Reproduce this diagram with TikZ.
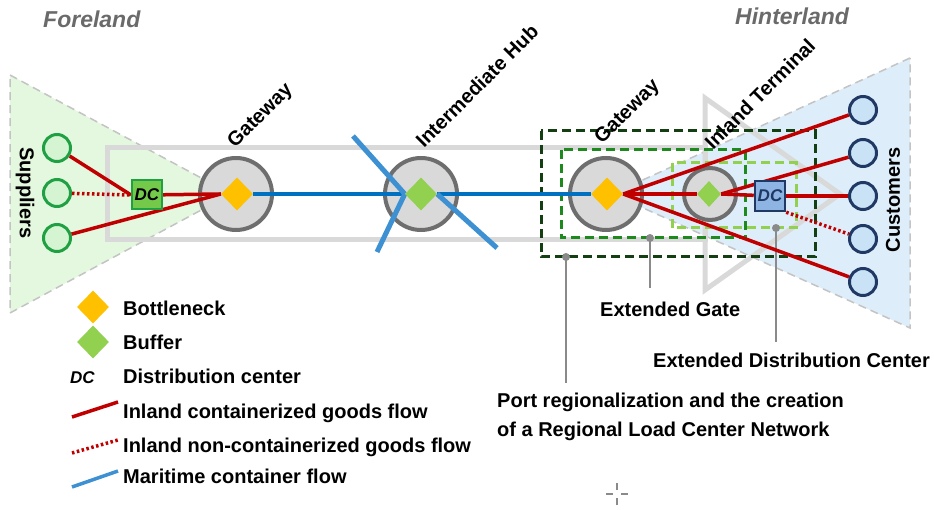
\documentclass[tikz,border=0pt]{standalone}
\usepackage{fontspec}
\setmainfont{Liberation Sans}
\usetikzlibrary{shapes.geometric}
\definecolor{trigreen}{HTML}{E4F7DF}
\definecolor{triblue}{HTML}{DDEDF9}
\definecolor{tribord}{HTML}{C4C4C4}
\definecolor{corr}{HTML}{D9D9D9}
\definecolor{gwfill}{HTML}{D9D9D9}
\definecolor{gwdraw}{HTML}{6E6E6E}
\definecolor{orng}{HTML}{FFC000}
\definecolor{bufg}{HTML}{92D050}
\definecolor{supg}{HTML}{1FA043}
\definecolor{supfill}{HTML}{D4F4D2}
\definecolor{navy}{HTML}{1F3864}
\definecolor{custfill}{HTML}{C9E2F6}
\definecolor{dcgfill}{HTML}{74C84A}
\definecolor{dcbfill}{HTML}{8DB4E2}
\definecolor{redf}{HTML}{C00000}
\definecolor{bluef}{HTML}{0070C0}
\definecolor{bluex}{HTML}{3D91D3}
\definecolor{dgreen}{HTML}{133F13}
\definecolor{mgreen}{HTML}{1E8A1E}
\definecolor{leadg}{HTML}{8A8A8A}
\definecolor{landg}{HTML}{6A6A6A}
\pgfdeclarelayer{back}
\pgfdeclarelayer{circ}
\pgfdeclarelayer{lines}
\pgfsetlayers{back,circ,lines,main}
\begin{document}
\begin{tikzpicture}[x=1pt,y=-1pt,
  lbl/.style={font=\bfseries\fontsize{20}{24}\selectfont,inner sep=0pt,anchor=base west},
  rlbl/.style={font=\bfseries\fontsize{20}{24}\selectfont,inner sep=0pt,anchor=base west,rotate=45},
  land/.style={font=\bfseries\itshape\fontsize{23}{27}\selectfont,text=landg,inner sep=0pt,anchor=base west},
  gwcircle/.style={circle,draw=gwdraw,fill=gwfill,line width=4pt,minimum size=72pt,inner sep=0pt},
  itcircle/.style={circle,draw=gwdraw,fill=gwfill,line width=4pt,minimum size=52pt,inner sep=0pt},
  bneck/.style={diamond,fill=orng,minimum width=32pt,minimum height=33pt,inner sep=0pt},
  buffer/.style={diamond,fill=bufg,minimum width=32pt,minimum height=33pt,inner sep=0pt},
  sbuffer/.style={diamond,fill=bufg,minimum width=24pt,minimum height=26pt,inner sep=0pt},
  supp/.style={circle,draw=supg,fill=supfill,line width=3pt,minimum size=27pt,inner sep=0pt},
  cust/.style={circle,draw=navy,fill=custfill,line width=3pt,minimum size=27pt,inner sep=0pt},
  dcg/.style={rectangle,draw=supg,fill=dcgfill,line width=2pt,minimum width=30pt,minimum height=29pt,inner sep=0pt,font=\bfseries\itshape\fontsize{17}{20}\selectfont},
  dcb/.style={rectangle,draw=navy,fill=dcbfill,line width=2.5pt,minimum width=30pt,minimum height=30pt,inner sep=0pt,font=\bfseries\itshape\fontsize{17}{20}\selectfont,text=navy},
  redline/.style={draw=redf,line width=3.5pt},
  reddot/.style={draw=redf,line width=3.5pt,dash pattern=on 2.5pt off 2.5pt},
  blueline/.style={draw=bluef,line width=4.5pt},
  bluecross/.style={draw=bluex,line width=5pt},
  corridor/.style={draw=corr,line width=5pt},
  dbox/.style={line width=3pt,dash pattern=on 9pt off 5pt},
  leader/.style={draw=leadg,line width=2.5pt},
  ldot/.style={circle,fill=leadg,inner sep=0pt,minimum size=8pt}
]
\useasboundingbox (0,0) rectangle (934,510);

\begin{pgfonlayer}{back}
  % foreland and hinterland triangles
  \fill[trigreen] (10,75) -- (231,194) -- (10,313) -- cycle;
  \draw[tribord,line width=1.5pt,dash pattern=on 8pt off 5pt] (10,75) -- (231,194) -- (10,313) -- cycle;
  \fill[triblue] (910,58) -- (612,194) -- (910,328) -- cycle;
  \draw[tribord,line width=1.5pt,dash pattern=on 8pt off 5pt] (910,58) -- (612,194) -- (910,328) -- cycle;
  % corridor and open triangle
  \draw[corridor] (107,148) rectangle (705,240);
  \draw[corridor] (705,98) -- (840,194) -- (705,290) -- cycle;
  % dashed boxes
  \draw[dbox,draw=dgreen] (541,131) rectangle (815,257);
  \draw[dbox,draw=mgreen] (561,150) rectangle (745,238);
  \draw[dbox,draw=bufg] (672,163) rectangle (796,228);
\end{pgfonlayer}

\begin{pgfonlayer}{circ}
  \node[gwcircle] (gw1) at (236,194) {};
  \node[gwcircle] (hub) at (421,194) {};
  \node[gwcircle] (gw2) at (606,194) {};
  \node[itcircle] (it) at (710,194) {};
  \node[supp] (s1) at (57,148) {};
  \node[supp] (s2) at (57,193) {};
  \node[supp] (s3) at (57,238) {};
  \node[cust] (c1) at (863,110) {};
  \node[cust] (c2) at (863,153) {};
  \node[cust] (c3) at (863,196) {};
  \node[cust] (c4) at (863,239) {};
  \node[cust] (c5) at (863,282) {};
\end{pgfonlayer}

% diamonds and DC boxes
\node[bneck] (d1) at (237,194) {};
\node[buffer] (d2) at (421,194) {};
\node[bneck] (d3) at (607,194) {};
\node[sbuffer] (d4) at (709,194) {};
\node[dcg] (dcl) at (147,195) {DC};
\node[dcb] (dcr) at (770,196) {DC};

\coordinate (xnw) at (353,136);
\coordinate (xsw) at (377,252);
\coordinate (xse) at (497,248);

\begin{pgfonlayer}{lines}
  % foreland flows
  \draw[redline] (s1) -- (dcl.west);
  \draw[reddot] (s2) -- (dcl.west);
  \draw[redline] (s3) -- (d1.west);
  \draw[redline] (dcl) -- (d1.west);
  % maritime flows
  \draw[blueline] (d1.east) -- (d2.west);
  \draw[blueline] (d2.east) -- (d3.west);
  \draw[bluecross] (xnw) -- (d2.west);
  \draw[bluecross] (xsw) -- (d2.west);
  \draw[bluecross] (d2.east) -- (xse);
  % hinterland flows
  \draw[redline] (d3.east) -- (c1);
  \draw[redline] (d3.east) -- (c5);
  \draw[redline] (d3.east) -- (d4.west);
  \draw[redline] (c2) -- (d4.east);
  \draw[redline] (dcr) -- (d4.east);
  \draw[redline] (dcr) -- (c3);
  \draw[reddot] (dcr.south east) -- (c4);
\end{pgfonlayer}

% region labels
\node[land] (fore) at (43,28) {Foreland};
\node[land] (hint) at (735,25) {Hinterland};
\node[font=\bfseries\fontsize{20}{24}\selectfont,rotate=-90,inner sep=0pt] (supl) at (25,193) {Suppliers};
\node[font=\bfseries\fontsize{20}{24}\selectfont,rotate=90,inner sep=0pt] (cusl) at (893,200) {Customers};

% rotated node labels
\node[rlbl] (gw1l) at (235,149) {Gateway};
\node[rlbl] (hubl) at (424,149) {Intermediate Hub};
\node[rlbl] (gw2l) at (602,145) {Gateway};
\node[rlbl] (itl) at (713,151) {Inland Terminal};

% leaders and annotations
\node[lbl] (egl) at (600,317) {Extended Gate};
\node[lbl] (edcl) at (653,367) {Extended Distribution Center};
\node[font=\bfseries\fontsize{20}{29}\selectfont,inner sep=0pt,anchor=north west,align=left] (portl) at (497,393)
  {Port regionalization and the creation\\of a Regional Load Center Network};
\node[ldot] (pdot) at (566,257) {};
\node[ldot] (gdot) at (650,238) {};
\node[ldot] (edot) at (776,228) {};
\coordinate (pend) at (566,383);
\coordinate (gend) at (650,288);
\coordinate (eend) at (776,342);
\begin{pgfonlayer}{back}
  \draw[leader] (pdot.center) -- (pend);
  \draw[leader] (gdot.center) -- (gend);
  \draw[leader] (edot.center) -- (eend);
\end{pgfonlayer}

% legend
\node[bneck] (lbn) at (93,307) {};
\node[lbl] (lbnt) at (123,316) {Bottleneck};
\node[buffer] (lbf) at (93,342) {};
\node[lbl] (lbft) at (123,349) {Buffer};
\node[font=\bfseries\itshape\fontsize{17}{20}\selectfont,inner sep=0pt,anchor=base west] (ldc) at (70,383) {DC};
\node[lbl] (ldct) at (123,383) {Distribution center};
\coordinate (lr1) at (72,417);
\coordinate (lr2) at (118,402);
\draw[redline] (lr1) -- (lr2);
\node[lbl] (lrt) at (123,418) {Inland containerized goods flow};
\coordinate (ld1) at (72,453);
\coordinate (ld2) at (118,440);
\draw[reddot] (ld1) -- (ld2);
\node[lbl] (ldt) at (123,452) {Inland non-containerized goods flow};
\coordinate (lb1) at (72,487);
\coordinate (lb2) at (118,471);
\draw[draw=bluex,line width=3.5pt] (lb1) -- (lb2);
\node[lbl] (lbt) at (123,483) {Maritime container flow};

% small crosshair mark
\coordinate (ch) at (617,494);
\draw[leadg,line width=1.2pt] ([xshift=-11pt]ch) -- ([xshift=-4pt]ch) ([xshift=4pt]ch) -- ([xshift=11pt]ch)
  ([yshift=-11pt]ch) -- ([yshift=-4pt]ch) ([yshift=4pt]ch) -- ([yshift=11pt]ch);
\end{tikzpicture}
\end{document}
